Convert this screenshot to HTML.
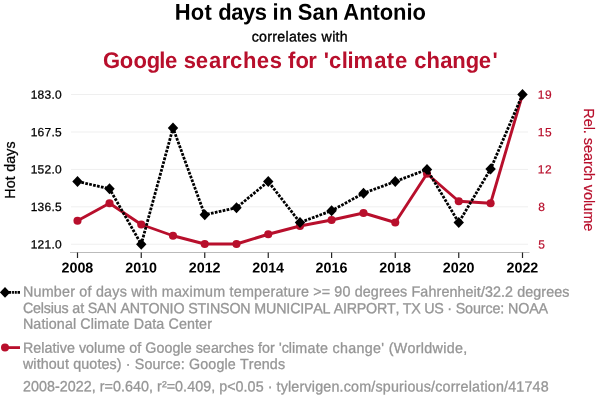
<!DOCTYPE html>
<html><head><meta charset="utf-8"><title>Hot days in San Antonio</title>
<style>
html,body{margin:0;padding:0;background:#fff;}
body{width:600px;height:408px;overflow:hidden;font-family:"Liberation Sans",Arial,Helvetica,sans-serif;}
svg{display:block;}
text{font-family:"Liberation Sans",Arial,Helvetica,sans-serif;}
.k{stroke:#000;stroke-width:.25px}.k2{stroke:#000;stroke-width:.35px}.r{stroke:#b80f2c;stroke-width:.2px}.g{stroke:#969696;stroke-width:.3px}
</style></head><body>
<svg width="600" height="408" viewBox="0 0 600 408">
<rect width="600" height="408" fill="#fff"/>

<text transform="matrix(1 0.0005 0 1.035 0 19.603)" x="174.68 190.83 204.54 211.6 218.25 231.22 242.99 254.77 266.1 272.61 279.03 291.1 297.77 312.62 325.03 337.1 343.35 359.16 372.52 379.77 393.13 406.49 412.52" y="0" font-size="22" font-weight="bold" fill="#000">Hot days in San Antonio</text>
<text transform="matrix(1 0.0005 0 1.02 0 41.452)" x="251.7 259.08 267.27 272.28 277.29 285.48 288.92 297.1 301.33 309.51 316.1 321.62 332.14 335.56 339.77" y="0" font-size="14.2" fill="#000" class="k2">correlates with</text>
<text transform="matrix(1 0.0005 0 1.03 0 67.851)" x="103.1 119.84 133.44 146.8 159.26 164.94 178 183.83 195.84 208.96 221.75 229.94 243.06 256.64 269.63 282 287.92 295.39 308.35 317.5 323.83 329.04 341.71 347.56 353.45 374.36 386.83 394.94 408 414.24 426.46 440.26 452.35 465.7 478.64 492.53" y="0" font-size="22" font-weight="bold" fill="#b80f2c">Google searches for 'climate change'</text>
<line x1="71" x2="528" y1="94.5" y2="94.5" stroke="#efefef" stroke-width="1"/>
<line x1="71" x2="528" y1="132" y2="132" stroke="#efefef" stroke-width="1"/>
<line x1="71" x2="528" y1="169.4" y2="169.4" stroke="#efefef" stroke-width="1"/>
<line x1="71" x2="528" y1="206.8" y2="206.8" stroke="#efefef" stroke-width="1"/>
<line x1="71" x2="528" y1="244.25" y2="244.25" stroke="#efefef" stroke-width="1"/>
<line x1="70" x2="529.5" y1="252.5" y2="252.5" stroke="#bbbbbb" stroke-width="1"/>
<line x1="77.5" x2="77.5" y1="252.5" y2="258" stroke="#222" stroke-width="1.2"/>
<text transform="matrix(1 0.0005 0 1.0 0 272.461)" x="77.4" y="0" text-anchor="middle" font-size="14.3" font-weight="bold" fill="#000">2008</text>
<line x1="141.25" x2="141.25" y1="252.5" y2="258" stroke="#222" stroke-width="1.2"/>
<text transform="matrix(1 0.0005 0 1.0 0 272.429)" x="141.15" y="0" text-anchor="middle" font-size="14.3" font-weight="bold" fill="#000">2010</text>
<line x1="204.75" x2="204.75" y1="252.5" y2="258" stroke="#222" stroke-width="1.2"/>
<text transform="matrix(1 0.0005 0 1.0 0 272.398)" x="204.65" y="0" text-anchor="middle" font-size="14.3" font-weight="bold" fill="#000">2012</text>
<line x1="268.25" x2="268.25" y1="252.5" y2="258" stroke="#222" stroke-width="1.2"/>
<text transform="matrix(1 0.0005 0 1.0 0 272.366)" x="268.15" y="0" text-anchor="middle" font-size="14.3" font-weight="bold" fill="#000">2014</text>
<line x1="331.6" x2="331.6" y1="252.5" y2="258" stroke="#222" stroke-width="1.2"/>
<text transform="matrix(1 0.0005 0 1.0 0 272.334)" x="331.5" y="0" text-anchor="middle" font-size="14.3" font-weight="bold" fill="#000">2016</text>
<line x1="395.25" x2="395.25" y1="252.5" y2="258" stroke="#222" stroke-width="1.2"/>
<text transform="matrix(1 0.0005 0 1.0 0 272.302)" x="395.15" y="0" text-anchor="middle" font-size="14.3" font-weight="bold" fill="#000">2018</text>
<line x1="458.75" x2="458.75" y1="252.5" y2="258" stroke="#222" stroke-width="1.2"/>
<text transform="matrix(1 0.0005 0 1.0 0 272.271)" x="458.65" y="0" text-anchor="middle" font-size="14.3" font-weight="bold" fill="#000">2020</text>
<line x1="522.5" x2="522.5" y1="252.5" y2="258" stroke="#222" stroke-width="1.2"/>
<text transform="matrix(1 0.0005 0 1.0 0 272.239)" x="522.4" y="0" text-anchor="middle" font-size="14.3" font-weight="bold" fill="#000">2022</text>
<text transform="matrix(1 0.0005 0 1.0 0 98.679)" x="30.69 37.62 44.56 51.5 55.09" y="0" font-size="12" fill="#000" class="k">183.0</text>
<text transform="matrix(1 0.0005 0 1.0 0 136.179)" x="30.69 37.63 44.58 51.52 55.13" y="0" font-size="12" fill="#000" class="k">167.5</text>
<text transform="matrix(1 0.0005 0 1.0 0 173.579)" x="30.69 37.62 44.56 51.5 55.09" y="0" font-size="12" fill="#000" class="k">152.0</text>
<text transform="matrix(1 0.0005 0 1.0 0 210.979)" x="30.69 37.63 44.58 51.52 55.13" y="0" font-size="12" fill="#000" class="k">136.5</text>
<text transform="matrix(1 0.0005 0 1.0 0 248.429)" x="30.69 37.62 44.56 51.5 55.09" y="0" font-size="12" fill="#000" class="k">121.0</text>
<text transform="matrix(1 0.0005 0 1.0 0 98.429)" x="537.79 544.99" y="0" font-size="12" fill="#b80f2c" class="r">19</text>
<text transform="matrix(1 0.0005 0 1.0 0 135.929)" x="537.79 544.93" y="0" font-size="12" fill="#b80f2c" class="r">15</text>
<text transform="matrix(1 0.0005 0 1.0 0 173.329)" x="537.79 545.03" y="0" font-size="12" fill="#b80f2c" class="r">12</text>
<text transform="matrix(1 0.0005 0 1.0 0 210.731)" x="538.18" y="0" font-size="12" fill="#b80f2c" class="r">8</text>
<text transform="matrix(1 0.0005 0 1.0 0 248.181)" x="538.22" y="0" font-size="12" fill="#b80f2c" class="r">5</text>
<text transform="translate(15.1,170.0) rotate(-90) scale(1,1.06)" text-anchor="middle" textLength="57.3" lengthAdjust="spacing" font-size="14.2" fill="#000" class="k">Hot days</text>
<text transform="translate(584,169.8) rotate(90) scale(1,1.05)" text-anchor="middle" textLength="123" lengthAdjust="spacing" font-size="14.6" fill="#b80f2c" class="r">Rel. search volume</text>
<polyline points="77.5,220.75 109.5,203.25 141.25,224.5 173,235.75 204.75,244 236.5,244 268.25,234.25 300,226 331.6,220 363.5,213 395.25,222.5 427,173.75 458.75,201.25 490.6,203.25 522.5,94.5" fill="none" stroke="#b80f2c" stroke-width="2.9" stroke-linejoin="round"/>
<circle cx="77.5" cy="220.75" r="4.05" fill="#b80f2c"/>
<circle cx="109.5" cy="203.25" r="4.05" fill="#b80f2c"/>
<circle cx="141.25" cy="224.5" r="4.05" fill="#b80f2c"/>
<circle cx="173" cy="235.75" r="4.05" fill="#b80f2c"/>
<circle cx="204.75" cy="244" r="4.05" fill="#b80f2c"/>
<circle cx="236.5" cy="244" r="4.05" fill="#b80f2c"/>
<circle cx="268.25" cy="234.25" r="4.05" fill="#b80f2c"/>
<circle cx="300" cy="226" r="4.05" fill="#b80f2c"/>
<circle cx="331.6" cy="220" r="4.05" fill="#b80f2c"/>
<circle cx="363.5" cy="213" r="4.05" fill="#b80f2c"/>
<circle cx="395.25" cy="222.5" r="4.05" fill="#b80f2c"/>
<circle cx="427" cy="173.75" r="4.05" fill="#b80f2c"/>
<circle cx="458.75" cy="201.25" r="4.05" fill="#b80f2c"/>
<circle cx="490.6" cy="203.25" r="4.05" fill="#b80f2c"/>
<polyline points="77.5,181.5 109.5,188.75 141.25,244.25 173,128 204.75,214.75 236.5,207.75 268.25,181.5 300,222.5 331.6,210.75 363.5,193.25 395.25,181.5 427,169.5 458.75,222.5 490.6,169.0 522.5,94.5" fill="none" stroke="#000" stroke-width="2.8" stroke-dasharray="2.7 1.3" stroke-linejoin="round"/>
<path d="M72.3 181.5L77.5 176.0L82.7 181.5L77.5 187.0Z" fill="#000"/>
<path d="M104.3 188.75L109.5 183.25L114.7 188.75L109.5 194.25Z" fill="#000"/>
<path d="M136.05 244.25L141.25 238.75L146.45 244.25L141.25 249.75Z" fill="#000"/>
<path d="M167.8 128L173 122.5L178.2 128L173 133.5Z" fill="#000"/>
<path d="M199.55 214.75L204.75 209.25L209.95 214.75L204.75 220.25Z" fill="#000"/>
<path d="M231.3 207.75L236.5 202.25L241.7 207.75L236.5 213.25Z" fill="#000"/>
<path d="M263.05 181.5L268.25 176.0L273.45 181.5L268.25 187.0Z" fill="#000"/>
<path d="M294.8 222.5L300 217.0L305.2 222.5L300 228.0Z" fill="#000"/>
<path d="M326.40000000000003 210.75L331.6 205.25L336.8 210.75L331.6 216.25Z" fill="#000"/>
<path d="M358.3 193.25L363.5 187.75L368.7 193.25L363.5 198.75Z" fill="#000"/>
<path d="M390.05 181.5L395.25 176.0L400.45 181.5L395.25 187.0Z" fill="#000"/>
<path d="M421.8 169.5L427 164.0L432.2 169.5L427 175.0Z" fill="#000"/>
<path d="M453.55 222.5L458.75 217.0L463.95 222.5L458.75 228.0Z" fill="#000"/>
<path d="M485.40000000000003 169.0L490.6 163.5L495.8 169.0L490.6 174.5Z" fill="#000"/>
<path d="M517.3 94.5L522.5 89.0L527.7 94.5L522.5 100.0Z" fill="#000"/>
<path d="M6.5 292.4H11.2M12.1 292.4H13.95M14.75 292.4H16.8M17.55 292.4H20" stroke="#000" stroke-width="2.75" fill="none"/>
<path d="M-0.2 292.4L5 287.1L10.2 292.4L5 297.7Z" fill="#000"/>
<text transform="matrix(1 0.0005 0 1.03 0 296.404)" x="22.9 33.46 41.64 53.78 61.96 70.14 75.13 79.34 87.52 91.72 95.92 104.1 112.28 119.66 127.04 131.24 141.8 145.21 149.41 157.59 161.79 173.93 182.11 189.49 192.9 205.04 213.22 225.36 229.56 233.77 241.95 254.09 262.27 270.45 275.44 283.63 287.83 296.01 301.0 309.1 313.21 321.71 330.2 334.32 342.42 350.51 354.63 362.72 370.82 378.92 383.82 391.92 400.02 407.31 411.43 420.3 428.4 436.5 441.4 449.5 457.54 465.58 473.62 476.88 480.94 485.0 493.03 501.07 505.13 513.17 517.23 525.27 533.31 541.35 546.19 554.23 562.27" y="0" font-size="14.3" fill="#969696" class="g">Number of days with maximum temperature &gt;= 90 degrees Fahrenheit/32.2 degrees</text>
<text transform="matrix(1 0.0005 0 1.03 0 313.06)" x="22.9 33.05 40.83 43.84 50.81 53.82 61.59 68.57 72.37 80.15 83.95 87.75 97.11 106.48 116.63 120.43 129.79 139.95 148.51 159.46 169.61 173.41 184.36 188.16 197.52 206.08 209.88 220.04 229.4 240.35 250.5 254.3 266.04 276.19 286.35 290.15 300.3 303.99 313.24 322.5 330.17 333.86 343.11 346.8 356.85 366.1 376.94 386.98 395.44 399.13 402.82 411.27 420.52 424.21 434.26 443.51 447.2 451.84 455.69 465.11 472.94 480.78 485.42 492.45 500.28 504.13 507.98 518.19 529.19 538.61" y="0" font-size="14.3" fill="#969696" class="g">Celsius at SAN ANTONIO STINSON MUNICIPAL AIRPORT, TX US · Source: NOAA</text>
<text transform="matrix(1 0.0005 0 1.03 0 328.742)" x="22.9 33.34 41.4 45.49 48.78 56.85 64.91 72.98 76.27 80.35 90.79 94.08 97.37 109.39 117.46 121.54 129.61 133.7 144.14 152.2 156.29 164.35 168.44 178.88 186.94 195.01 199.09 207.16" y="0" font-size="14.3" fill="#969696" class="g">National Climate Data Center</text>
<text transform="matrix(1 0.0005 0 1.03 0 352.728)" x="22.9 33.27 41.26 44.48 52.48 56.49 59.71 66.91 74.9 78.92 86.11 94.1 97.32 105.32 117.27 125.27 129.28 137.28 141.29 145.31 156.47 164.47 172.46 180.46 183.68 191.67 195.69 202.88 210.88 218.87 223.68 230.87 238.86 246.86 254.05 258.07 262.08 270.08 274.88 278.9 281.67 288.86 292.08 295.3 307.52 315.78 320.06 328.31 332.59 340.05 348.31 356.57 364.82 373.08 381.34 384.38 388.66 393.73 407.53 415.79 420.85 424.34 432.6 443.23 446.71 454.97 463.23" y="0" font-size="14.3" fill="#969696" class="g">Relative volume of Google searches for 'climate change' (Worldwide,</text>
<text transform="matrix(1 0.0005 0 1.03 0 368.825)" x="22.9 33.35 36.65 40.74 48.82 56.89 64.97 69.07 73.16 81.24 89.31 97.39 101.48 109.56 116.83 121.71 125.81 130.69 134.79 144.45 152.53 160.6 165.49 172.76 180.83 184.93 189.02 200.27 208.34 216.42 224.5 227.79 235.87 239.97 248.82 253.71 261.78 269.86 277.93" y="0" font-size="14.3" fill="#969696" class="g">without quotes) · Source: Google Trends</text>
<text transform="matrix(1 0.0005 0 1.03 0 391.259)" x="22.9 30.9 38.91 46.91 54.91 59.73 67.73 75.73 83.74 91.74 95.77 99.79 104.6 113.0 121.01 125.03 133.03 141.04 149.04 153.06 157.09 161.9 166.71 175.12 183.12 187.14 195.15 203.15 211.15 215.18 219.2 227.2 235.61 243.61 247.63 255.64 263.64 267.66 272.48 276.5 280.66 288.0 291.36 299.51 304.46 311.79 315.16 323.3 331.44 339.58 343.74 351.08 359.22 371.32 375.49 382.82 390.97 399.11 404.06 407.42 415.56 423.7 431.04 435.2 442.54 450.68 455.63 460.58 468.73 472.09 480.23 484.39 487.76 495.9 504.04 508.2 516.34 524.48 532.63 540.77" y="0" font-size="14.3" fill="#969696" class="g">2008-2022, r=0.640, r²=0.409, p&lt;0.05 · tylervigen.com/spurious/correlation/41748</text>
<line x1="5" x2="20" y1="347.6" y2="347.6" stroke="#b80f2c" stroke-width="2.8"/>
<circle cx="5" cy="347.6" r="4" fill="#b80f2c"/>
</svg></body></html>
